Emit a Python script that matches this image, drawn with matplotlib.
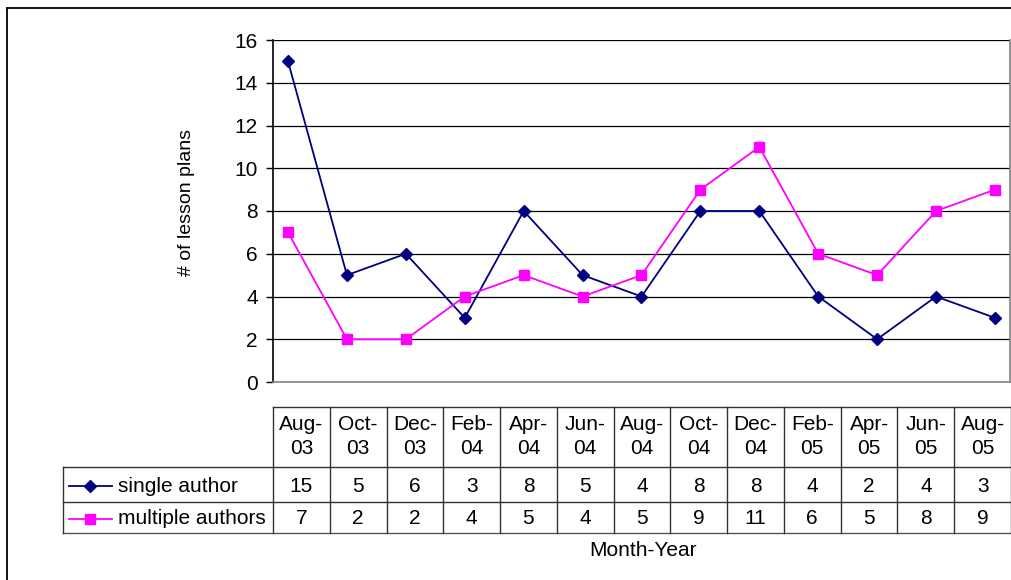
import matplotlib
matplotlib.use("Agg")
import matplotlib.pyplot as plt
from matplotlib.lines import Line2D

plt.rcParams['font.family'] = ['Liberation Sans', 'DejaVu Sans']

months = ["Aug-\n03", "Oct-\n03", "Dec-\n03", "Feb-\n04", "Apr-\n04", "Jun-\n04", "Aug-\n04",
          "Oct-\n04", "Dec-\n04", "Feb-\n05", "Apr-\n05", "Jun-\n05", "Aug-\n05"]
single_author = [15, 5, 6, 3, 8, 5, 4, 8, 8, 4, 2, 4, 3]
multiple_authors = [7, 2, 2, 4, 5, 4, 5, 9, 11, 6, 5, 8, 9]
series_names = ["single author", "multiple authors"]
yticks = [0, 2, 4, 6, 8, 10, 12, 14, 16]

W, H = 1012, 580
fig = plt.figure(figsize=(W / 100, H / 100), dpi=100)

NAVY = "#000080"
MAG = "#FF00FF"
FS = 15

# plot area in pixels
px_l, px_r, px_t, px_b = 273, 1010, 40, 382
ax = fig.add_axes([px_l / W, 1 - px_b / H, (px_r - px_l) / W, (px_b - px_t) / H])
x = list(range(len(months)))
ax.plot(x, single_author, color=NAVY, lw=1.3, marker="D", ms=6, mfc=NAVY, mec=NAVY, zorder=3)
ax.plot(x, multiple_authors, color=MAG, lw=1.3, marker="s", ms=6.5, mfc=MAG, mec=MAG, zorder=3)
ax.set_ylim(0, 16)
ax.set_xlim(-0.255, len(months) - 1 + 0.255)
ax.set_yticks(yticks)
ax.tick_params(axis='y', labelsize=FS, length=5, width=1, direction='out', pad=6)
ax.set_xticks([])
for t in yticks[1:]:
    ax.axhline(t, color="black", lw=0.9, zorder=1)
ax.spines['left'].set_color("black")
ax.spines['left'].set_linewidth(1.2)
for s in ['right', 'bottom', 'top']:
    ax.spines[s].set_color("#808080")
    ax.spines[s].set_linewidth(1.2)
ax.spines['top'].set_visible(False)
ax.set_ylabel("# of lesson plans", fontsize=14)
ax.yaxis.set_label_coords(-(px_l - 195) / (px_r - px_l), (px_b - 202.5) / (px_b - px_t))

# overlay in pixel coords for the data table
ov = fig.add_axes([0, 0, 1, 1], zorder=5)
ov.set_xlim(0, W)
ov.set_ylim(H, 0)
ov.axis("off")
ov.patch.set_alpha(0)

def hl(x0, x1, y, c="#333333", lw=1.0):
    ov.add_line(Line2D([x0, x1], [y, y], color=c, lw=lw))

def vl(x0, y0, y1, c="#333333", lw=1.0):
    ov.add_line(Line2D([x0, x0], [y0, y1], color=c, lw=lw))

# outer border
hl(7, W, 8, c="black", lw=1.3)
vl(7, 8, H, c="black", lw=1.3)

tab_l, tab_r = 273, 1011
n = len(months)
cw = (tab_r - tab_l) / n
y_top, y_h, y_r1, y_r2 = 407, 467, 502, 533
leg_l = 63

hl(tab_l, tab_r, y_top)
hl(leg_l, tab_r, y_h)
hl(leg_l, tab_r, y_r1)
hl(leg_l, tab_r, y_r2, c="#555555")
vl(leg_l, y_h, y_r2)
for i in range(n + 1):
    vl(tab_l + i * cw, y_top, y_r2)

for i, (m, a, b) in enumerate(zip(months, single_author, multiple_authors)):
    cx = tab_l + (i + 0.5) * cw
    top, bot = m.split("\n")
    ov.text(cx, 425, top, ha="center", va="center", fontsize=FS)
    ov.text(cx, 449, bot, ha="center", va="center", fontsize=FS)
    ov.text(cx, 486, str(a), ha="center", va="center", fontsize=FS)
    ov.text(cx, 519, str(b), ha="center", va="center", fontsize=FS)

# legend keys
for yy, col, mk, ms, name in [(486, NAVY, "D", 6, series_names[0]), (519, MAG, "s", 6.5, series_names[1])]:
    ov.add_line(Line2D([69, 112], [yy, yy], color=col, lw=1.3, marker=None))
    ov.plot([90.5], [yy], marker=mk, ms=ms, color=col, mec=col)
    ov.text(118, yy, name, ha="left", va="center", fontsize=FS)

ov.text(643, 550, "Month-Year", ha="center", va="center", fontsize=FS)

fig.savefig("out.png", dpi=100)
